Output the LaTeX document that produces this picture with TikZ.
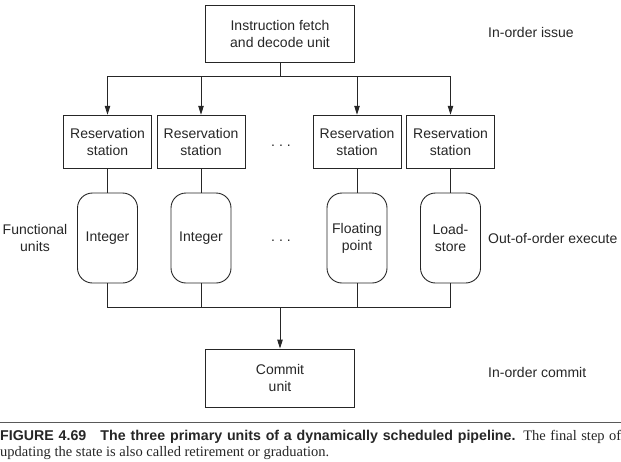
\documentclass[tikz,border=0pt]{standalone}
\usepackage{fontspec}
\setmainfont{Liberation Sans}
\newfontfamily\capserif{Liberation Serif}
\usetikzlibrary{arrows.meta}

\begin{document}
\begin{tikzpicture}[x=1pt,y=-1pt,color=black!85,
  wire/.style={line width=0.9pt},
  unitbox/.style={draw,line width=0.9pt,minimum width=149pt,minimum height=57pt,
    inner sep=1pt,align=center,font=\fontsize{14}{17}\selectfont},
  rsbox/.style={unitbox,minimum width=88pt,minimum height=53pt},
  fubox/.style={unitbox,rounded corners=15pt,minimum width=60pt,minimum height=90pt},
  lbl/.style={inner sep=0pt,align=center,font=\fontsize{14}{17}\selectfont},
  >={Stealth[length=9pt,width=5.5pt,inset=0pt]}]
\useasboundingbox (0,0) rectangle (621,461);

\node[unitbox] (fetch) at (280,33.5) {Instruction fetch\\and decode unit};
\node[unitbox,minimum height=58pt] (commit) at (280,378) {Commit\\unit};

\foreach \i/\x in {1/107.5,2/201,3/357,4/450.5}
  \node[rsbox] (rs\i) at (\x,141.7) {Reservation\\station};

\node[fubox] (fu1) at (107.5,238) {Integer};
\node[fubox] (fu2) at (201,238) {Integer};
\node[fubox] (fu3) at (357,238) {Floating\\point};
\node[fubox] (fu4) at (450.5,238) {Load-\\store};

\node[lbl] (dotsrs) at (281,146) {.\hspace{4pt}.\hspace{4pt}.};
\node[lbl] (dotsfu) at (281,241) {.\hspace{4pt}.\hspace{4pt}.};

\node[lbl] (fulbl) at (35,238) {Functional\\units};
\node[lbl,anchor=west] (issue) at (488,32) {In-order issue};
\node[lbl,anchor=west] (execute) at (488,238) {Out-of-order execute};
\node[lbl,anchor=west] (commitlbl) at (488,372.7) {In-order commit};

% issue to the stations
\coordinate (split) at (280,76);
\foreach \i in {1,...,4}
  \draw[wire,->] (fetch.south) -- (split) -| (rs\i.north);

\foreach \i in {1,...,4}
  \draw[wire] (rs\i.south) -- (fu\i.north);

% results to the commit unit
\coordinate (join) at (280,307.7);
\foreach \i in {1,...,4}
  \draw[wire] (fu\i.south) |- (join);
\draw[wire,->] (join) -- (commit.north);

\draw[line width=1pt,black!65] (0,422.7) -- (621,422.7);
\node[anchor=base west,inner sep=0pt,text width=621pt,align=justify,
  font=\fontsize{14.2}{16.7}\selectfont] (caption) at (0,440)
  {{\bfseries FIGURE 4.69\quad The three primary units of a dynamically scheduled pipeline.}
   {\capserif\fontsize{14.5}{16.7}\selectfont The final step of\linebreak updating the state is also called retirement or graduation.}};
\end{tikzpicture}
\end{document}
